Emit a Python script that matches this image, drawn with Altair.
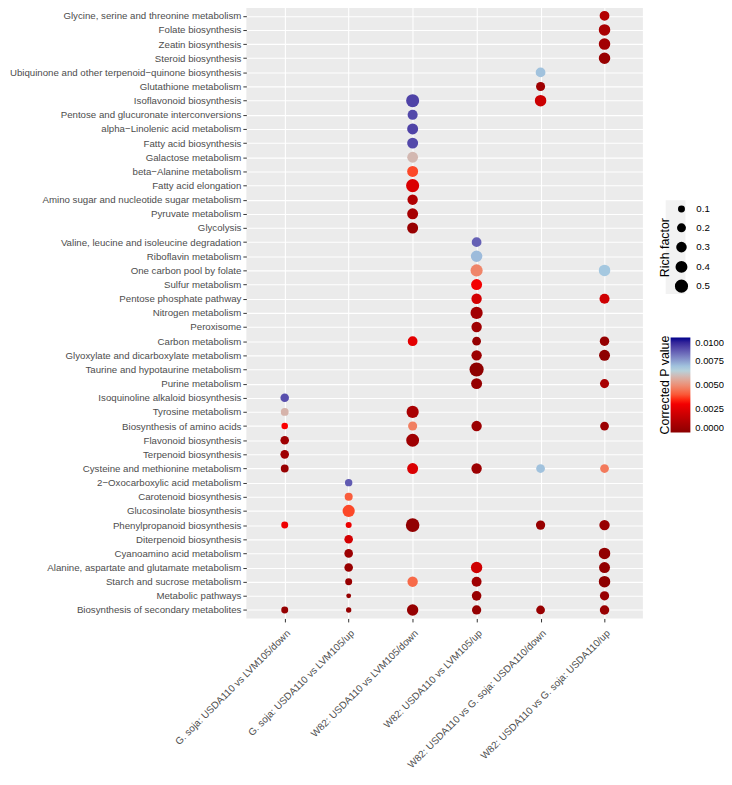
import altair as alt
import pandas as pd

comparisons = [
    "G. soja: USDA110 vs LVM105/down",
    "G. soja: USDA110 vs LVM105/up",
    "W82: USDA110 vs LVM105/down",
    "W82: USDA110 vs LVM105/up",
    "W82: USDA110 vs G. soja: USDA110/down",
    "W82: USDA110 vs G. soja: USDA110/up",
]

pathways = [
    "Glycine, serine and threonine metabolism",
    "Folate biosynthesis",
    "Zeatin biosynthesis",
    "Steroid biosynthesis",
    "Ubiquinone and other terpenoid\u2212quinone biosynthesis",
    "Glutathione metabolism",
    "Isoflavonoid biosynthesis",
    "Pentose and glucuronate interconversions",
    "alpha\u2212Linolenic acid metabolism",
    "Fatty acid biosynthesis",
    "Galactose metabolism",
    "beta\u2212Alanine metabolism",
    "Fatty acid elongation",
    "Amino sugar and nucleotide sugar metabolism",
    "Pyruvate metabolism",
    "Glycolysis",
    "Valine, leucine and isoleucine degradation",
    "Riboflavin metabolism",
    "One carbon pool by folate",
    "Sulfur metabolism",
    "Pentose phosphate pathway",
    "Nitrogen metabolism",
    "Peroxisome",
    "Carbon metabolism",
    "Glyoxylate and dicarboxylate metabolism",
    "Taurine and hypotaurine metabolism",
    "Purine metabolism",
    "Isoquinoline alkaloid biosynthesis",
    "Tyrosine metabolism",
    "Biosynthesis of amino acids",
    "Flavonoid biosynthesis",
    "Terpenoid biosynthesis",
    "Cysteine and methionine metabolism",
    "2\u2212Oxocarboxylic acid metabolism",
    "Carotenoid biosynthesis",
    "Glucosinolate biosynthesis",
    "Phenylpropanoid biosynthesis",
    "Diterpenoid biosynthesis",
    "Cyanoamino acid metabolism",
    "Alanine, aspartate and glutamate metabolism",
    "Starch and sucrose metabolism",
    "Metabolic pathways",
    "Biosynthesis of secondary metabolites",
]

# --- G. soja: USDA110 vs LVM105/down
c1_paths = ["Isoquinoline alkaloid biosynthesis", "Tyrosine metabolism", "Biosynthesis of amino acids",
            "Flavonoid biosynthesis", "Terpenoid biosynthesis", "Cysteine and methionine metabolism",
            "Phenylpropanoid biosynthesis", "Biosynthesis of secondary metabolites"]
c1_rich = [0.18, 0.14, 0.08, 0.18, 0.18, 0.14, 0.10, 0.10]
c1_p = [0.0088, 0.0058, 0.0032, 0.0006, 0.0006, 0.0004, 0.0029, 0.0003]

# --- G. soja: USDA110 vs LVM105/up
c2_paths = ["2\u2212Oxocarboxylic acid metabolism", "Carotenoid biosynthesis", "Glucosinolate biosynthesis",
            "Phenylpropanoid biosynthesis", "Diterpenoid biosynthesis", "Cyanoamino acid metabolism",
            "Alanine, aspartate and glutamate metabolism", "Starch and sucrose metabolism",
            "Metabolic pathways", "Biosynthesis of secondary metabolites"]
c2_rich = [0.12, 0.15, 0.42, 0.06, 0.18, 0.18, 0.18, 0.10, 0.02, 0.035]
c2_p = [0.0086, 0.0041, 0.0038, 0.0028, 0.0021, 0.0005, 0.0004, 0.0004, 0.0003, 0.0003]

# --- W82: USDA110 vs LVM105/down
c3_paths = ["Isoflavonoid biosynthesis", "Pentose and glucuronate interconversions",
            "alpha\u2212Linolenic acid metabolism", "Fatty acid biosynthesis", "Galactose metabolism",
            "beta\u2212Alanine metabolism", "Fatty acid elongation", "Amino sugar and nucleotide sugar metabolism",
            "Pyruvate metabolism", "Glycolysis", "Carbon metabolism", "Tyrosine metabolism",
            "Biosynthesis of amino acids", "Flavonoid biosynthesis", "Cysteine and methionine metabolism",
            "Phenylpropanoid biosynthesis", "Starch and sucrose metabolism", "Biosynthesis of secondary metabolites"]
c3_rich = [0.49, 0.27, 0.33, 0.33, 0.32, 0.33, 0.50, 0.29, 0.33, 0.33, 0.25, 0.42, 0.21, 0.48, 0.33, 0.54, 0.29, 0.36]
c3_p = [0.0090, 0.0089, 0.0090, 0.0089, 0.0059, 0.0038, 0.0023, 0.0011, 0.0008, 0.0004, 0.0026, 0.0009,
        0.0047, 0.0006, 0.0023, 0.0002, 0.0043, 0.0003]

# --- W82: USDA110 vs LVM105/up
c4_paths = ["Valine, leucine and isoleucine degradation", "Riboflavin metabolism", "One carbon pool by folate",
            "Sulfur metabolism", "Pentose phosphate pathway", "Nitrogen metabolism", "Peroxisome",
            "Carbon metabolism", "Glyoxylate and dicarboxylate metabolism", "Taurine and hypotaurine metabolism",
            "Purine metabolism", "Biosynthesis of amino acids", "Cysteine and methionine metabolism",
            "Alanine, aspartate and glutamate metabolism", "Starch and sucrose metabolism",
            "Metabolic pathways", "Biosynthesis of secondary metabolites"]
c4_rich = [0.25, 0.37, 0.42, 0.33, 0.29, 0.42, 0.29, 0.19, 0.29, 0.59, 0.33, 0.29, 0.29, 0.36, 0.26, 0.24, 0.22]
c4_p = [0.0085, 0.0071, 0.0048, 0.0030, 0.0021, 0.0007, 0.0006, 0.0003, 0.0005, 0.0001, 0.0003, 0.0005,
        0.0005, 0.0020, 0.0006, 0.0004, 0.0003]

# --- W82: USDA110 vs G. soja: USDA110/down
c5_paths = ["Ubiquinone and other terpenoid\u2212quinone biosynthesis", "Glutathione metabolism",
            "Isoflavonoid biosynthesis", "Cysteine and methionine metabolism",
            "Phenylpropanoid biosynthesis", "Biosynthesis of secondary metabolites"]
c5_rich = [0.25, 0.21, 0.37, 0.19, 0.22, 0.19]
c5_p = [0.0070, 0.0006, 0.0019, 0.0070, 0.0004, 0.0004]

# --- W82: USDA110 vs G. soja: USDA110/up
c6_paths = ["Glycine, serine and threonine metabolism", "Folate biosynthesis", "Zeatin biosynthesis",
            "Steroid biosynthesis", "One carbon pool by folate", "Pentose phosphate pathway", "Carbon metabolism",
            "Glyoxylate and dicarboxylate metabolism", "Purine metabolism", "Biosynthesis of amino acids",
            "Cysteine and methionine metabolism", "Phenylpropanoid biosynthesis", "Cyanoamino acid metabolism",
            "Alanine, aspartate and glutamate metabolism", "Starch and sucrose metabolism",
            "Metabolic pathways", "Biosynthesis of secondary metabolites"]
c6_rich = [0.25, 0.37, 0.37, 0.37, 0.37, 0.27, 0.23, 0.33, 0.21, 0.19, 0.19, 0.29, 0.37, 0.33, 0.37, 0.22, 0.23]
c6_p = [0.0012, 0.0009, 0.0007, 0.0004, 0.0069, 0.0020, 0.0003, 0.0001, 0.0009, 0.0005, 0.0046, 0.0004,
        0.0002, 0.0002, 0.0001, 0.0004, 0.0004]

series = [
    (comparisons[0], c1_paths, c1_rich, c1_p),
    (comparisons[1], c2_paths, c2_rich, c2_p),
    (comparisons[2], c3_paths, c3_rich, c3_p),
    (comparisons[3], c4_paths, c4_rich, c4_p),
    (comparisons[4], c5_paths, c5_rich, c5_p),
    (comparisons[5], c6_paths, c6_rich, c6_p),
]

frames = []
for comp, paths, rich, p in series:
    frames.append(pd.DataFrame({"Comparison": comp, "Pathway": paths, "Rich": rich, "P": p}))
df = pd.concat(frames, ignore_index=True)

FONT = "Liberation Sans"
TOP = -5  # panel starts slightly above the visible area, as in the reference

# light key background behind the size-legend symbols (ggplot legend.key)
key_bg = alt.Chart(pd.DataFrame({"k": [1]})).mark_rect(color="#F2F2F2").encode(
    x=alt.value(424), x2=alt.value(444), y=alt.value(195), y2=alt.value(290)
)

points = alt.Chart(df).mark_circle(opacity=1, strokeWidth=0).encode(
    x=alt.X("Comparison:N", sort=comparisons, title=None,
            scale=alt.Scale(type="point", padding=0.6),
            axis=alt.Axis(labelAngle=-45, labelAlign="right", labelBaseline="top",
                          labelPadding=6, labelLimit=400, labelFontSize=10)),
    y=alt.Y("Pathway:N", sort=pathways, title=None,
            scale=alt.Scale(type="point", padding=0.6),
            axis=alt.Axis(labelPadding=2, labelLimit=400, labelFontSize=9.8)),
    size=alt.Size("Rich:Q",
                  scale=alt.Scale(domain=[0, 0.5], range=[18, 177], zero=False),
                  legend=alt.Legend(title=None, values=[0.1, 0.2, 0.3, 0.4, 0.5], orient="none",
                                    legendX=433, legendY=199, symbolFillColor="black",
                                    symbolStrokeWidth=0, symbolType="circle", labelOffset=8,
                                    rowPadding=5, gridAlign="all", format=".1f")),
    color=alt.Color("P:Q",
                    scale=alt.Scale(domain=[0, 0.0033333, 0.0066667, 0.01],
                                    range=["#8B0000", "#FF0000", "#ADD8E6", "#00008B"],
                                    interpolate="lab"),
                    legend=alt.Legend(title=None, values=[0, 0.0025, 0.005, 0.0075, 0.01],
                                      format=".4f", orient="none", legendX=429, legendY=334,
                                      direction="vertical", gradientLength=96,
                                      gradientThickness=20, labelOffset=5, labelFontSize=9.5)),
)

t_rich = alt.Chart(pd.DataFrame({"t": ["Rich factor"]})).mark_text(
    angle=270, align="center", baseline="middle", fontSize=12.5, font=FONT, color="black"
).encode(text="t:N", x=alt.value(423), y=alt.value(243))

t_p = alt.Chart(pd.DataFrame({"t": ["Corrected P value"]})).mark_text(
    angle=270, align="center", baseline="middle", fontSize=12.5, font=FONT, color="black"
).encode(text="t:N", x=alt.value(423), y=alt.value(382))

chart = alt.layer(key_bg, points, t_rich, t_p).properties(
    width=401, height=618,
    autosize=alt.AutoSizeParams(type="none"),
    padding={"left": 241, "top": TOP, "right": 82, "bottom": 155},
).configure(
    font=FONT
).configure_view(
    fill="#EBEBEB", stroke=None
).configure_axis(
    domain=False, tickColor="#333333", tickSize=3.5, tickWidth=1,
    labelColor="#4D4D4D", labelFont=FONT,
    gridColor="white", gridWidth=1.1, grid=True,
).configure_legend(
    padding=0, labelFontSize=9.8, labelFont=FONT, labelColor="black",
)

chart.save("out.html", embed_options={"renderer": "svg", "actions": False})
